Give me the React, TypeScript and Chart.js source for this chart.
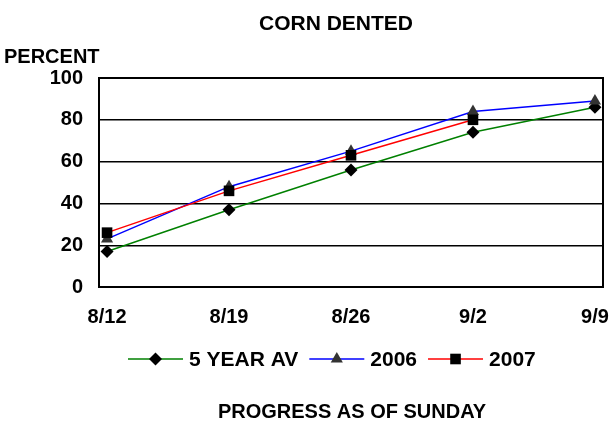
import React, { useEffect, useRef } from "react";
import { Chart, registerables } from "chart.js";

Chart.register(...registerables);

const categories = ["8/12", "8/19", "8/26", "9/2", "9/9"];
const fiveYearAvg = [17, 37, 56, 74, 86];
const y2006 = [23, 48, 65, 84, 89];
const y2007 = [26, 46, 63, 80];
const yTicks = [0, 20, 40, 60, 80, 100];
const chartTitle = "CORN DENTED";
const yTitle = "PERCENT";
const xTitle = "PROGRESS AS OF SUNDAY";

const FONT = "'Liberation Sans', Arial, sans-serif";

const toPoints = (vals: number[]) => vals.map((v, i) => ({ x: i, y: v }));

function drawMarker(ctx: CanvasRenderingContext2D, style: string, cx: number, cy: number, r: number) {
  ctx.beginPath();
  if (style === "rect") {
    const s = r * Math.SQRT1_2;
    ctx.rect(cx - s, cy - s, 2 * s, 2 * s);
  } else if (style === "rectRot") {
    ctx.moveTo(cx, cy - r);
    ctx.lineTo(cx + r, cy);
    ctx.lineTo(cx, cy + r);
    ctx.lineTo(cx - r, cy);
    ctx.closePath();
  } else if (style === "triangle") {
    const rad = Math.PI / 2;
    const p = (a: number) => [cx + Math.cos(a) * r, cy - Math.sin(a) * r];
    const a = p(rad), b = p(rad + (2 * Math.PI) / 3), c = p(rad + (4 * Math.PI) / 3);
    ctx.moveTo(a[0], a[1]);
    ctx.lineTo(b[0], b[1]);
    ctx.lineTo(c[0], c[1]);
    ctx.closePath();
  }
  ctx.fill();
}

export default function App() {
  const ref = useRef<HTMLCanvasElement | null>(null);

  useEffect(() => {
    if (!ref.current) return;

    const textPlugin = {
      id: "texts",
      afterDraw(chart: any) {
        const ctx = chart.ctx;
        const area = chart.chartArea;
        ctx.save();
        ctx.strokeStyle = "#000";
        ctx.lineWidth = 2;
        ctx.strokeRect(area.left, area.top, area.right - area.left, area.bottom - area.top);

        ctx.fillStyle = "#000";
        ctx.textBaseline = "middle";
        ctx.font = `bold 21px ${FONT}`;
        ctx.textAlign = "center";
        ctx.fillText(chartTitle, 336, 24);
        ctx.font = `bold 20px ${FONT}`;
        ctx.textAlign = "left";
        ctx.fillText(yTitle, 4, 57);
        ctx.textAlign = "center";
        ctx.fillText(xTitle, 352, 412);

        // legend
        ctx.font = `bold 21px ${FONT}`;
        const lineW = 55;
        const gapText = 6;
        const gapItem = 11;
        let x = 128;
        const y = 359;
        chart.data.datasets.forEach((ds: any) => {
          ctx.strokeStyle = ds.borderColor;
          ctx.lineWidth = ds.borderWidth;
          ctx.beginPath();
          ctx.moveTo(x, y);
          ctx.lineTo(x + lineW, y);
          ctx.stroke();
          ctx.fillStyle = ds.pointBackgroundColor;
          drawMarker(ctx, ds.pointStyle, x + lineW / 2, y, ds.pointRadius);
          ctx.fillStyle = "#000";
          ctx.textAlign = "left";
          ctx.fillText(ds.label, x + lineW + gapText, y + 1);
          x += lineW + gapText + ctx.measureText(ds.label).width + gapItem;
        });
        ctx.restore();
      },
    };

    const chart = new Chart(ref.current, {
      type: "line",
      data: {
        datasets: [
          {
            label: "5 YEAR AV",
            data: toPoints(fiveYearAvg),
            borderColor: "#008000",
            borderWidth: 1.5,
            pointStyle: "rectRot",
            pointRadius: 6.5,
            pointBackgroundColor: "#000",
            pointBorderColor: "#000",
            pointBorderWidth: 0,
            order: 2,
          },
          {
            label: "2006",
            data: toPoints(y2006),
            borderColor: "#0000FF",
            borderWidth: 1.5,
            pointStyle: "triangle",
            pointRadius: 7,
            pointBackgroundColor: "#333333",
            pointBorderColor: "#333333",
            pointBorderWidth: 0,
            order: 1,
          },
          {
            label: "2007",
            data: toPoints(y2007),
            borderColor: "#FF0000",
            borderWidth: 1.5,
            pointStyle: "rect",
            pointRadius: 7.5,
            pointBackgroundColor: "#000",
            pointBorderColor: "#000",
            pointBorderWidth: 0,
            order: 0,
          },
        ],
      },
      options: {
        animation: false,
        responsive: false,
        maintainAspectRatio: false,
        layout: { padding: { top: 78, right: 9, left: 0, bottom: 0 } },
        plugins: {
          legend: { display: false },
          title: { display: false },
          tooltip: { enabled: false },
        },
        elements: { line: { tension: 0 } },
        scales: {
          x: {
            type: "linear",
            min: -0.066,
            max: 4.066,
            afterFit: (s: any) => {
              s.height = 424 - 287;
              s.paddingLeft = 0;
              s.paddingRight = 0;
            },
            ticks: {
              stepSize: 1,
              includeBounds: false,
              autoSkip: false,
              maxRotation: 0,
              padding: 18,
              color: "#000",
              font: { family: FONT, size: 20, weight: "bold" },
              callback: (v: any) => (Number.isInteger(v) ? categories[v] ?? "" : ""),
            },
            grid: { display: false, drawTicks: false },
            border: { display: false },
          },
          y: {
            min: 0,
            max: 100,
            afterFit: (s: any) => {
              s.width = 99;
            },
            afterBuildTicks: (s: any) => {
              s.ticks = yTicks.map((v) => ({ value: v }));
            },
            ticks: {
              padding: 16,
              color: "#000",
              font: { family: FONT, size: 20, weight: "bold" },
            },
            grid: { color: "#000", lineWidth: 1.4, drawTicks: false },
            border: { display: false },
          },
        },
      },
      plugins: [textPlugin],
    } as any);

    return () => chart.destroy();
  }, []);

  return (
    <div style={{ position: "fixed", left: 0, top: 0, width: 612, height: 424, background: "#fff" }}>
      <canvas ref={ref} width={612} height={424} style={{ width: 612, height: 424, display: "block" }} />
    </div>
  );
}
